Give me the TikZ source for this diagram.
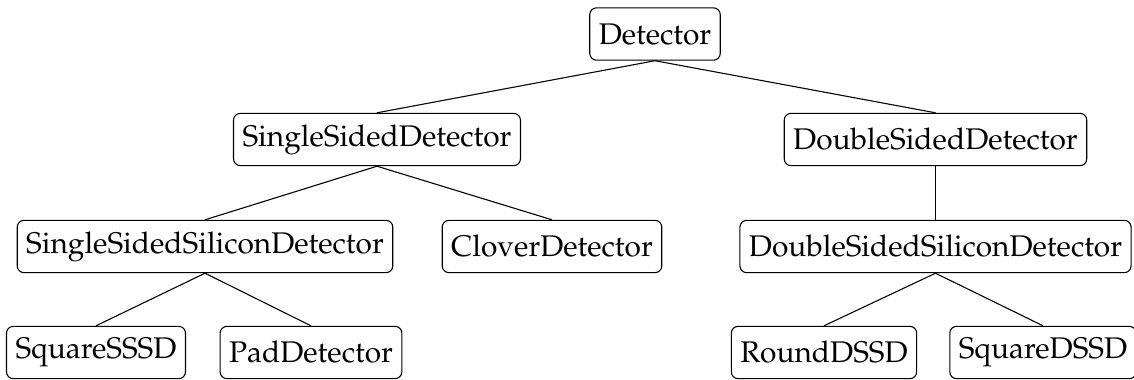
\documentclass[tikz,border=0pt]{standalone}
\usepackage[T1]{fontenc}
\usepackage{mathpazo}
\usetikzlibrary{positioning}
\tikzset{cls/.style={draw, rounded corners=2.5pt, minimum height=19.2pt, inner xsep=3.3pt, font=\fontsize{10.95}{13}\selectfont}}

\begin{document}
\begin{tikzpicture}[x=0.0129cm,y=-0.0129cm]
      \useasboundingbox (0,0) rectangle (1134,379);
      \node[cls] (det) at (655,34) {Detector};
      \node[cls] (ssd) at (377,139.5) {SingleSidedDetector};
      \node[cls] (dsd) at (935.5,139.5) {DoubleSidedDetector};
      \node[cls] (ssid) at (205,246.5) {SingleSidedSiliconDetector};
      \node[cls] (clover) at (552,246.5) {CloverDetector};
      \node[cls] (dssid) at (935.5,246.5) {DoubleSidedSiliconDetector};
      \node[cls] (sqsssd) at (96,352.5) {SquareSSSD};
      \node[cls] (pad) at (311,352.5) {PadDetector};
      \node[cls] (rdssd) at (824,352.5) {RoundDSSD};
      \node[cls] (sqdssd) at (1043,352.5) {SquareDSSD};
      \draw (det.south) -- (ssd.north);
      \draw (det.south) -- (dsd.north);
      \draw (ssd.south) -- (ssid.north);
      \draw (ssd.south) -- (clover.north);
      \draw (dsd.south) -- (dssid.north);
      \draw (ssid.south) -- (sqsssd.north);
      \draw (ssid.south) -- (pad.north);
      \draw (dssid.south) -- (rdssd.north);
      \draw (dssid.south) -- (sqdssd.north);
    \end{tikzpicture}
\end{document}
